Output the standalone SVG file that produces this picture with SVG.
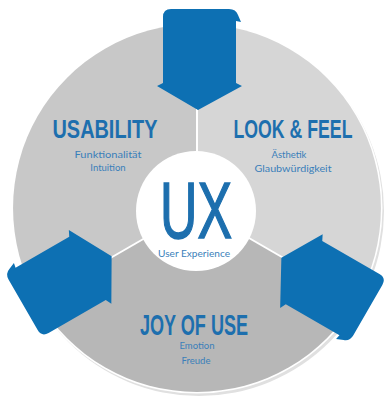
<svg xmlns="http://www.w3.org/2000/svg" xmlns:xlink="http://www.w3.org/1999/xlink" width="386" height="400" viewBox="0 0 386 400">
<style>
.title{font-family:"Liberation Sans",Arial,sans-serif;font-weight:bold;fill:#1d6fae;text-anchor:middle}
.sub{font-family:Lato,"Liberation Sans",sans-serif;font-size:9.5px;fill:#3a7fba;text-anchor:middle}
.div{stroke:#ffffff;stroke-width:2;fill:none}
.arrow{fill:#0d70b3}
</style>
<defs>
<path id="arrowShape" d="M163,17 Q163,9 171,9 L229,9 Q236,9 238,15 L241,22 L236,21 L236,83 L242,86 L198,110 L157,86 L163,83 Z"/>
</defs>
<rect width="386" height="400" fill="#ffffff"/>
<g id="ring">
<circle cx="199" cy="211" r="185" fill="#e0e0e0"/>
<circle cx="197" cy="208" r="185.5" fill="#ffffff"/>
<path id="sector-usability" d="M197,208 L37.7,300 A184,184 0 0 1 197,24 Z" fill="#c8c8c8"/>
<path id="sector-look" d="M197,208 L197,24 A184,184 0 0 1 356.3,300 Z" fill="#d6d6d6"/>
<path id="sector-joy" d="M197,208 L356.3,300 A184,184 0 0 1 37.7,300 Z" fill="#b7b7b7"/>
</g>
<g id="connectors">
<line class="div" x1="197" y1="208" x2="197" y2="24"/>
<line class="div" x1="197" y1="208" x2="356.3" y2="300"/>
<line class="div" x1="197" y1="208" x2="37.7" y2="300"/>
<use xlink:href="#arrowShape" class="arrow"/>
<use xlink:href="#arrowShape" class="arrow" transform="rotate(120 197 208)"/>
<use xlink:href="#arrowShape" class="arrow" transform="rotate(240 197 208)"/>
</g>
<g id="ux">
<circle cx="196" cy="211" r="60" fill="#ffffff"/>
<text class="title" x="196" y="238" font-size="80" font-weight="normal" textLength="72" lengthAdjust="spacingAndGlyphs" style="font-weight:normal;stroke:#1d6fae;stroke-width:1.5">UX</text>
<text class="sub" x="194" y="257" textLength="72" lengthAdjust="spacingAndGlyphs">User Experience</text>
</g>
<g id="usability">
<text class="title" x="105" y="138" font-size="25" textLength="105" lengthAdjust="spacingAndGlyphs">USABILITY</text>
<text class="sub" x="108" y="158" textLength="67" lengthAdjust="spacingAndGlyphs">Funktionalität</text>
<text class="sub" x="108" y="171">Intuition</text>
</g>
<g id="look-feel">
<text class="title" x="293" y="138" font-size="25" textLength="119" lengthAdjust="spacingAndGlyphs">LOOK &amp; FEEL</text>
<text class="sub" x="289" y="158">Ästhetik</text>
<text class="sub" x="293" y="172" textLength="77" lengthAdjust="spacingAndGlyphs">Glaubwürdigkeit</text>
</g>
<g id="joy">
<text class="title" x="194" y="335" font-size="30" textLength="108" lengthAdjust="spacingAndGlyphs">JOY OF USE</text>
<text class="sub" x="197" y="349">Emotion</text>
<text class="sub" x="196" y="364">Freude</text>
</g>
</svg>
